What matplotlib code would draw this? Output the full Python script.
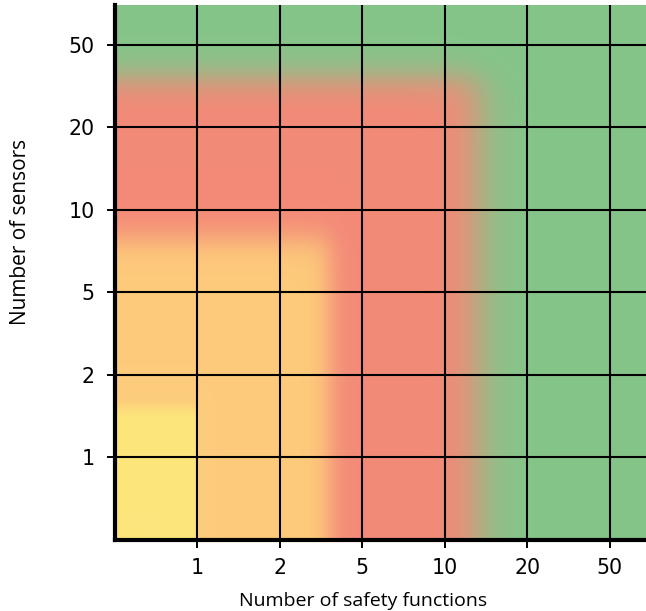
import numpy as np
import matplotlib.pyplot as plt
from matplotlib.colors import to_rgb

# axis categories
tick_labels = ['1', '2', '5', '10', '20', '50']
tick_pos = [1, 2, 3, 4, 5, 6]

# colour zones painted over a green background (edges in category units)
background = '#85c58a'
zone_colors = ['#f38a78', '#fdcb7b', '#fce67c']
zone_x_edge = [4.4, 2.6, 1.0]
zone_y_edge = [5.6, 3.65, 1.6]
zone_x_soft = [0.14, 0.08, 0.015]
zone_y_soft = [0.11, 0.11, 0.04]

xmax, ymax = 6.44, 6.48

xs = np.linspace(0, xmax, 640)
ys = np.linspace(0, ymax, 640)
X, Y = np.meshgrid(xs, ys)

img = np.ones(X.shape + (3,)) * np.array(to_rgb(background))
for c, xe, ye, sx, sy in zip(zone_colors, zone_x_edge, zone_y_edge, zone_x_soft, zone_y_soft):
    a = 1 / (1 + np.exp(-(xe - X) / sx)) * 1 / (1 + np.exp(-(ye - Y) / sy))
    img = img * (1 - a[..., None]) + np.array(to_rgb(c)) * a[..., None]

fig = plt.figure(figsize=(6.46, 6.11), dpi=100)
ax = fig.add_axes([115 / 646, 71 / 611, 531 / 646, 535 / 611])
ax.imshow(img, origin='lower', extent=[0, xmax, 0, ymax], aspect='auto', zorder=0)

for p in tick_pos:
    ax.axvline(p, color='black', lw=1.5, zorder=2)
    ax.axhline(p, color='black', lw=1.5, zorder=2)

ax.set_xlim(0, xmax)
ax.set_ylim(0, ymax)
ax.set_xticks(tick_pos)
ax.set_xticklabels(tick_labels)
ax.set_yticks(tick_pos)
ax.set_yticklabels(tick_labels)
ax.tick_params(direction='out', length=6, width=1.4, labelsize=14.8)
ax.tick_params(axis='x', pad=7)
ax.tick_params(axis='y', pad=8.5)

for s in ['top', 'right']:
    ax.spines[s].set_visible(False)
for s in ['left', 'bottom']:
    ax.spines[s].set_linewidth(3)
    ax.spines[s].set_zorder(3)

ax.set_xlabel('Number of safety functions', fontsize=14, family='Open Sans')
ax.xaxis.set_label_coords(0.467, -0.097)
ax.set_ylabel('Number of sensors', fontsize=15, family='Open Sans')
ax.yaxis.set_label_coords(-0.158, 0.576)

fig.savefig('out.png', dpi=100)
